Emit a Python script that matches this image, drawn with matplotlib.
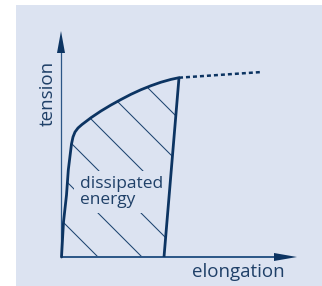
import matplotlib.pyplot as plt
from matplotlib.patches import Polygon, Rectangle

# loading curve (elongation, tension) in arbitrary units
load_x = [0.5, 2.5, 5.5, 7.3, 9.5, 10.5, 12, 14, 17, 21, 25, 30, 40, 50, 60,
          70, 80, 90, 100, 110, 118]
load_y = [0, 35, 62, 87, 105, 113, 120, 125, 129, 132.5, 135.5, 139.3, 146,
          152, 157.5, 162.7, 167.3, 171.3, 174.8, 177.6, 179.3]

# unloading line and the dotted continuation
unload_x = [118, 103]
unload_y = [179.3, 0]
cont_x = [118, 201]
cont_y = [179.3, 185]

# hatch lines y = k - x
hatch_k = [37, 81, 124, 168, 212, 256]

bg = '#dce3f1'
navy = '#0c3462'
axis_col = '#2b5687'
txt_col = '#1f4068'

fig = plt.figure(figsize=(3.22, 2.86), dpi=100)
fig.patches.append(Rectangle((16 / 322, 0), 306 / 322, 281 / 286,
                             transform=fig.transFigure, facecolor=bg,
                             edgecolor='none', zorder=0))
ax = fig.add_axes([0, 0, 1, 1])
ax.set_zorder(1)
ax.set_facecolor('none')
ax.set_xlim(-61, 261)
ax.set_ylim(-29, 257)
ax.axis('off')

# axes with arrowheads
ax.plot([0, 214], [0, 0], color=axis_col, lw=1.4, solid_capstyle='butt', zorder=4)
ax.plot([0, 0], [0, 205], color=axis_col, lw=0.9, solid_capstyle='butt', zorder=4)
ax.add_patch(Polygon([[213, -4], [236, 0], [213, 4]], closed=True,
                     facecolor=navy, edgecolor='none', zorder=4))
ax.add_patch(Polygon([[-4, 204], [0, 226], [4, 204]], closed=True,
                     facecolor=navy, edgecolor='none', zorder=4))

# hatched area
region = list(zip(load_x, load_y)) + [(unload_x[1], unload_y[1])]
clip = Polygon(region, closed=True, facecolor='none', edgecolor='none')
ax.add_patch(clip)
for k in hatch_k:
    ln, = ax.plot([k - 300, k + 10], [300, -10], color='#1d4470', lw=0.75,
                  zorder=1)
    ln.set_clip_path(clip)

# curves
ax.plot(load_x, load_y, color=navy, lw=2.0, solid_capstyle='round',
        solid_joinstyle='round', zorder=5)
ax.plot(unload_x, unload_y, color=navy, lw=2.0, solid_capstyle='butt', zorder=5)
ax.plot(cont_x, cont_y, color=navy, lw=1.8, dashes=(1.6, 1.2), zorder=5)

font = 'Open Sans'
ax.text(-13.5, 164, 'tension', rotation=90, ha='center', va='center',
        fontsize=13.5, color=txt_col, family=font)
ax.text(224, -15, 'elongation', ha='right', va='center',
        fontsize=13.5, color=txt_col, family=font)
ax.text(19, 65, 'dissipated\nenergy', ha='left', va='center',
        fontsize=12.5, color=txt_col, family=font, linespacing=0.92,
        bbox=dict(facecolor=bg, edgecolor='none', pad=4), zorder=2)

fig.savefig('out.png', dpi=100)
